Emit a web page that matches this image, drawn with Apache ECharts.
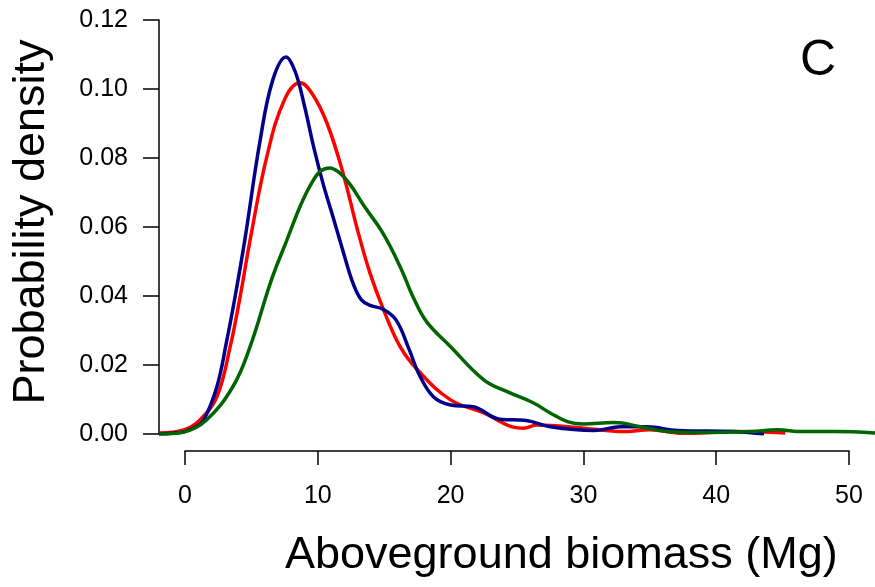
<!DOCTYPE html>
<html>
<head>
<meta charset="utf-8">
<script src="https://cdn.jsdelivr.net/npm/echarts@6/dist/echarts.min.js"></script>
<style>html,body{margin:0;padding:0;background:#fff}#c{width:875px;height:587px}</style>
</head>
<body>
<div id="c"></div>
<script>
const xTicks = [0, 10, 20, 30, 40, 50];
const yTicks = [0, 0.02, 0.04, 0.06, 0.08, 0.10, 0.12];

const redData = [
  [-1.96, 0.0003], [-0.1, 0.0012], [1.1, 0.004], [2.4, 0.0108], [3.4, 0.0253], [4.15, 0.0398],
  [4.9, 0.0562], [6.16, 0.0804], [7.5, 0.097], [8.67, 0.1018], [9.6, 0.0985], [10.7, 0.090],
  [11.9, 0.0756], [13.0, 0.059], [13.9, 0.047], [14.9, 0.0365], [16.2, 0.0253], [17.5, 0.0186],
  [20, 0.0099], [22.5, 0.0061], [24.7, 0.002], [25.5, 0.0017], [26.5, 0.0026], [30, 0.0017],
  [33, 0.0007], [35, 0.0012], [37.5, 0.0002], [41.3, 0.0007], [45.2, 0.0003]
];
const blueData = [
  [-1.96, 0], [-1, 0.0002], [-0.1, 0.0006], [0.8, 0.002], [1.4, 0.004], [2.4, 0.0137],
  [3.15, 0.0272], [3.77, 0.0398], [4.5, 0.0562], [5.66, 0.0852], [6.6, 0.1025], [7.6, 0.1093],
  [8.3, 0.105], [9.0, 0.095], [9.7, 0.083], [10.4, 0.0725], [11.14, 0.063], [11.9, 0.053],
  [12.65, 0.0437], [13.3, 0.0388], [14.0, 0.0372], [14.9, 0.0362], [15.9, 0.033], [16.9, 0.0243],
  [17.6, 0.0175], [18.7, 0.0108], [20, 0.0084], [21.7, 0.0079], [23.7, 0.0043], [25.7, 0.0039],
  [27.5, 0.0021], [30.8, 0.001], [32.8, 0.0021], [34.8, 0.0021], [37.1, 0.001], [41.3, 0.0007],
  [43.6, 0.0]
];
const greenData = [
  [-1.96, 0], [-0.1, 0.0006], [1.6, 0.004], [3.6, 0.0137], [4.9, 0.0253], [6.5, 0.0446],
  [7.67, 0.0562], [8.67, 0.066], [9.5, 0.0725], [10.2, 0.0762], [10.9, 0.0771], [11.6, 0.0758],
  [12.4, 0.0725], [13.5, 0.066], [14.9, 0.0582], [16.2, 0.0485], [17.2, 0.0395], [18.2, 0.0325],
  [20, 0.0253], [22.5, 0.0157], [24.3, 0.0122], [26.25, 0.009], [27.5, 0.0061], [28.8, 0.0036],
  [30, 0.0029], [32.3, 0.0033], [34.3, 0.0021], [36.3, 0.0007], [38.8, 0.0004], [42.6, 0.0007],
  [44.6, 0.0012], [46.4, 0.0007], [48.9, 0.0007], [52, 0.0003]
];

const FONT = '"Liberation Sans", Arial, Helvetica, sans-serif';
const chart = echarts.init(document.getElementById('c'));

function lineSeries(name, data, color) {
  return {
    name, type: 'line', data, xAxisIndex: 0, yAxisIndex: 0,
    showSymbol: false, symbol: 'none', smooth: 0.4,
    lineStyle: { color, width: 3.5 }, z: 3, animation: false
  };
}

chart.setOption({
  animation: false,
  backgroundColor: '#fff',
  grid: [
    { left: 159, right: 0, top: 20, bottom: 153, containLabel: false },
    { left: 185, right: 26, top: 20, bottom: 136, containLabel: false }
  ],
  xAxis: [
    { type: 'value', gridIndex: 0, min: -1.96, max: 51.96, show: false },
    {
      type: 'value', gridIndex: 1, min: xTicks[0], max: xTicks[xTicks.length - 1], interval: 10,
      position: 'bottom',
      axisLine: { show: true, onZero: false, lineStyle: { color: '#000', width: 1.5 } },
      axisTick: { show: true, inside: false, length: 14, lineStyle: { color: '#000', width: 1.5 } },
      axisLabel: { margin: 33, color: '#000', fontSize: 25, fontFamily: FONT, showMinLabel: true, showMaxLabel: true },
      splitLine: { show: false }
    }
  ],
  yAxis: [
    {
      type: 'value', gridIndex: 0, min: yTicks[0], max: yTicks[yTicks.length - 1], interval: 0.02,
      position: 'left',
      axisLine: { show: true, onZero: false, lineStyle: { color: '#000', width: 1.5 } },
      axisTick: { show: true, inside: false, length: 16, lineStyle: { color: '#000', width: 1.5 } },
      axisLabel: { margin: 31, color: '#000', fontSize: 25, fontFamily: FONT, formatter: v => v.toFixed(2) },
      splitLine: { show: false }
    },
    { type: 'value', gridIndex: 1, min: 0, max: 1, show: false }
  ],
  graphic: [
    { type: 'text', left: 285, top: 533, style: { text: 'Aboveground biomass (Mg)', font: '45px ' + FONT, fill: '#000' } },
    { type: 'text', x: 32, y: 222, rotation: Math.PI / 2,
      style: { text: 'Probability density', font: '45px ' + FONT, fill: '#000', align: 'center', verticalAlign: 'middle' } },
    { type: 'text', x: 818, y: 61, style: { text: 'C', font: '50px ' + FONT, fill: '#000', align: 'center', verticalAlign: 'middle' } }
  ],
  series: [
    lineSeries('red', redData, '#FF0000'),
    lineSeries('blue', blueData, '#00008B'),
    lineSeries('green', greenData, '#006400')
  ]
});
</script>
</body>
</html>
